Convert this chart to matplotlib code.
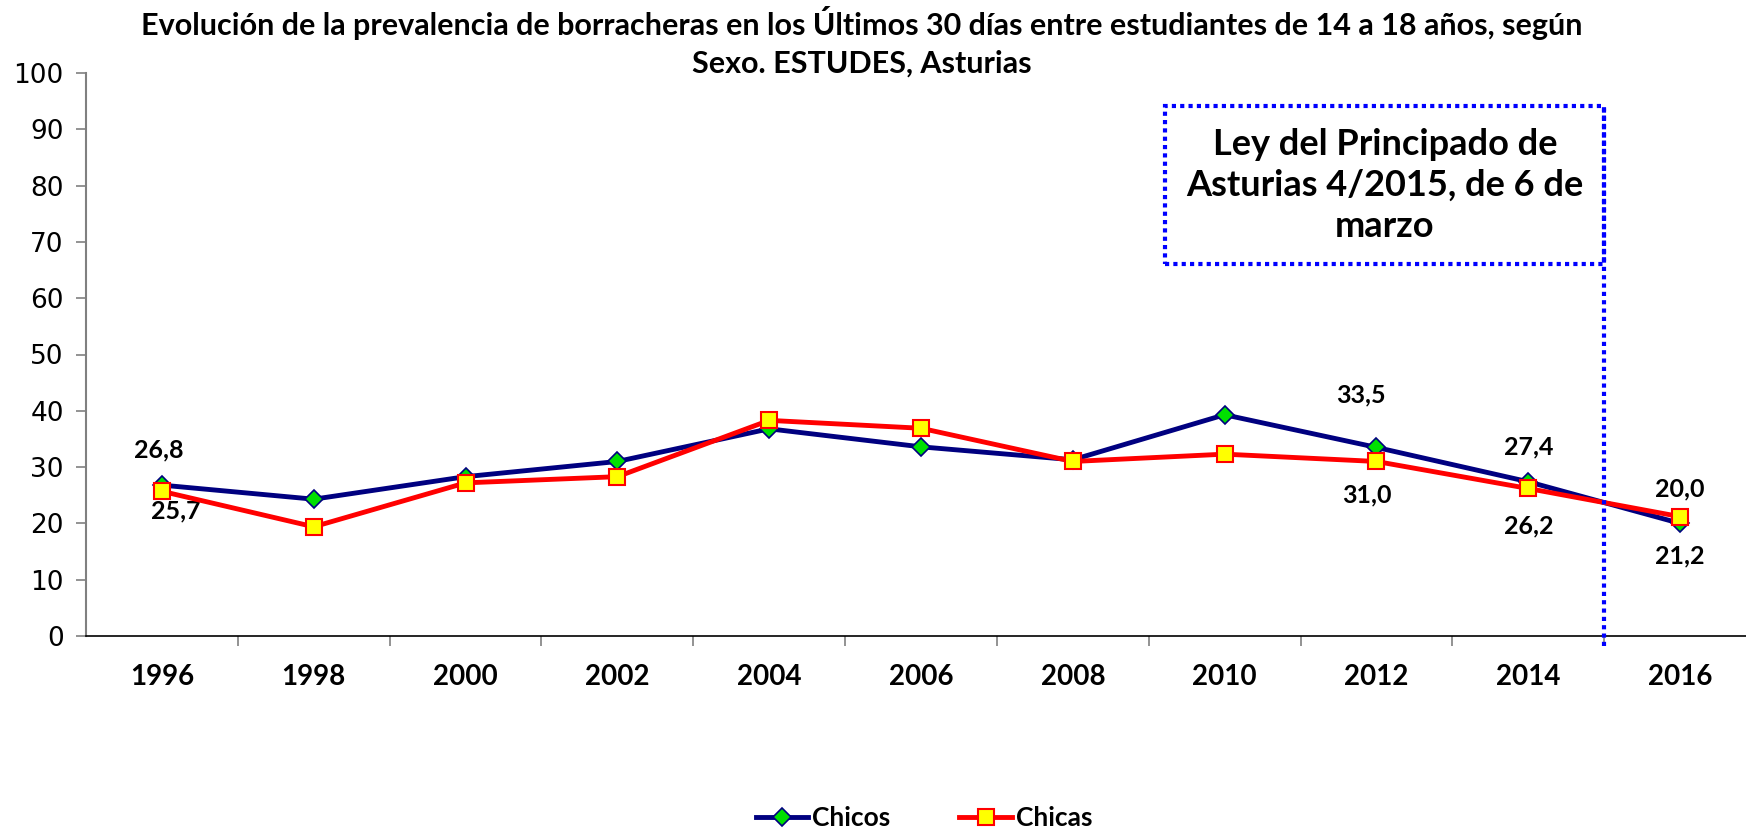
import matplotlib.pyplot as plt
from matplotlib.patches import Rectangle

years = ["1996", "1998", "2000", "2002", "2004", "2006", "2008", "2010", "2012", "2014", "2016"]
chicos = [26.8, 24.3, 28.3, 31.0, 36.8, 33.6, 31.3, 39.3, 33.5, 27.4, 20.0]
chicas = [25.7, 19.4, 27.2, 28.3, 38.3, 36.9, 31.0, 32.3, 31.0, 26.2, 21.2]
labelled = [0, 8, 9, 10]  # points that carry a value label

title = ("Evolución de la prevalencia de borracheras en los Últimos 30 días entre "
         "estudiantes de 14 a 18 años, según\nSexo. ESTUDES, Asturias")
box_text = "Ley del Principado de\nAsturias 4/2015, de 6 de\nmarzo"

W, H = 1746, 832
fig = plt.figure(figsize=(W / 100, H / 100), dpi=100)
ax = fig.add_axes([86 / W, (H - 636) / H, (1756 - 86) / W, (636 - 73) / H])

x = list(range(len(years)))

ax.plot(x, chicos, color="#000080", lw=3.5, marker="D", ms=9,
        mfc="#00e000", mec="#000080", mew=1.2, label="Chicos", zorder=3)
ax.plot(x, chicas, color="#ff0000", lw=3.5, marker="s", ms=11,
        mfc="#ffff00", mec="#ff0000", mew=1.5, label="Chicas", zorder=4)

# value labels (offsets in points)
off_chicos = {0: (-2, 25), 8: (-11, 38), 9: (0, 25), 10: (0, 25)}
off_chicas = {0: (10, -14), 8: (-7, -24), 9: (0, -27), 10: (0, -28)}
for i in labelled:
    ax.annotate(f"{chicos[i]:.1f}".replace(".", ","), (x[i], chicos[i]),
                xytext=off_chicos[i], textcoords="offset points",
                ha="center", va="center", fontsize=18, fontweight="bold",
                family="Lato")
    ax.annotate(f"{chicas[i]:.1f}".replace(".", ","), (x[i], chicas[i]),
                xytext=off_chicas[i], textcoords="offset points",
                ha="center", va="center", fontsize=18, fontweight="bold",
                family="Lato")

ax.set_xlim(-0.5, len(years) - 0.5)
ax.set_ylim(0, 100)
ax.set_yticks(range(0, 101, 10))
ax.tick_params(axis="y", labelsize=19, length=7, color="#808080", width=1.2, pad=9)

# category labels between boundary ticks
ax.set_xticks([i + 0.5 for i in range(len(years) - 1)])
ax.set_xticklabels([])
ax.set_xticks(x, minor=True)
ax.set_xticklabels(years, minor=True, fontsize=20, fontweight="bold", family="Lato")
ax.tick_params(axis="x", which="major", length=7, color="#808080", width=1.2)
ax.tick_params(axis="x", which="minor", length=0, pad=20)

for s in ["top", "right"]:
    ax.spines[s].set_visible(False)
ax.spines["left"].set_color("#808080")
ax.spines["left"].set_linewidth(1.5)
ax.spines["bottom"].set_color("black")
ax.spines["bottom"].set_linewidth(1.2)

# law annotation: dotted box and vertical line at 2015
ax.add_patch(Rectangle((6.61, 66.1), 9.5 - 6.61, 94.1 - 66.1, fill=False,
                       ec="#0000ff", lw=3, ls=(0, (1, 1)), clip_on=False, zorder=5))
ax.plot([9.5, 9.5], [-1.8, 94.1], color="#0000ff", lw=3, ls=(0, (1, 1)),
        clip_on=False, zorder=5)
ax.text((6.61 + 9.5) / 2, 80.0, box_text, ha="center", va="center",
        fontsize=26, fontweight="bold", family="Lato", linespacing=1.3)

fig.text(862 / W, 1 - 6 / H, title, ha="center", va="top", fontsize=22,
         fontweight="bold", family="Lato", linespacing=1.4)

fig.legend(loc="center", bbox_to_anchor=(924 / W, 1 - 818 / H), ncol=2,
           frameon=False, handlelength=2.0, columnspacing=2.6, handletextpad=0.15,
           prop={"family": "Lato", "weight": "bold", "size": 19})

fig.savefig("out.png", dpi=100)
